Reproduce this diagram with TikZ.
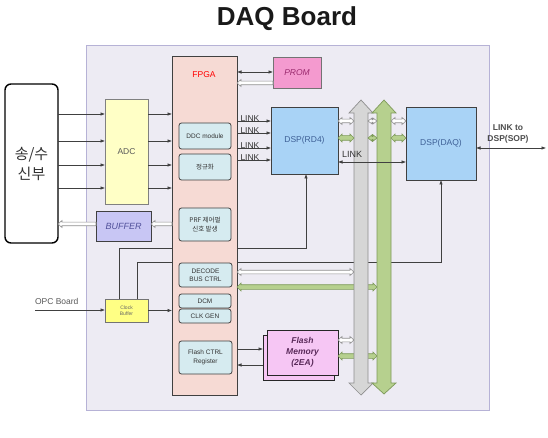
\documentclass[tikz,border=0pt]{standalone}
\usepackage{fontspec}
\setmainfont{Liberation Sans}
\newfontfamily\kr{Noto Sans CJK KR}
\usetikzlibrary{arrows.meta}
\pgfdeclarelayer{bg}\pgfdeclarelayer{back}
\pgfsetlayers{bg,back,main}
\definecolor{panelfill}{HTML}{EDEBF3}
\definecolor{paneldraw}{HTML}{B6B2D6}
\definecolor{fpgafill}{HTML}{F6DAD4}
\definecolor{subfill}{HTML}{D6EBF0}
\definecolor{adcfill}{HTML}{FFFFC6}
\definecolor{promfill}{HTML}{F49ACF}
\definecolor{promtext}{HTML}{9A2A6E}
\definecolor{dspfill}{HTML}{A9D3F6}
\definecolor{dsptext}{HTML}{3E6096}
\definecolor{buffill}{HTML}{C8C6F4}
\definecolor{buftext}{HTML}{50509A}
\definecolor{cbfill}{HTML}{FFFF84}
\definecolor{flfill}{HTML}{F6C6F4}
\definecolor{fltext}{HTML}{5A2A5A}
\definecolor{busgray}{HTML}{D6D6D6}
\definecolor{busgraydraw}{HTML}{8E8E8E}
\definecolor{busgreen}{HTML}{B6D08E}
\definecolor{busgreendraw}{HTML}{7E9A5A}
\definecolor{linec}{HTML}{404040}
\definecolor{txtc}{HTML}{333333}
\newcommand\fs[2]{\fontsize{#1}{#2}\selectfont}
\newcommand\mkbox[7]{\node[#6, minimum width={(#4-#2)*1pt}, minimum height={(#5-#3)*1pt}] (#1) at ({(#2+#4)/2},{(#3+#5)/2}) {#7};}
% horizontal double-headed block arrow: x1 x2 y halfshaft style
\newcommand\hdbl[5]{\filldraw[#5] (#1,#3) -- ({#1+4},{#3-#4-1.7}) -- ({#1+4},{#3-#4}) -- ({#2-4},{#3-#4}) -- ({#2-4},{#3-#4-1.7}) -- (#2,#3) -- ({#2-4},{#3+#4+1.7}) -- ({#2-4},{#3+#4}) -- ({#1+4},{#3+#4}) -- ({#1+4},{#3+#4+1.7}) -- cycle;}
% horizontal left-pointing block arrow (head at x1)
\newcommand\hleft[5]{\filldraw[#5] (#1,#3) -- ({#1+4},{#3-#4-1.7}) -- ({#1+4},{#3-#4}) -- (#2,{#3-#4}) -- (#2,{#3+#4}) -- ({#1+4},{#3+#4}) -- ({#1+4},{#3+#4+1.7}) -- cycle;}
\begin{document}
\begin{tikzpicture}[x=1pt,y=-1pt,
  every node/.style={inner sep=0pt, outer sep=0pt, align=center},
  box/.style={draw=linec, line width=.8pt},
  sub/.style={box, fill=subfill, rounded corners=2.5pt, text=txtc, font=\fs{6.5}{8}},
  conn/.style={draw=linec, line width=.6pt},
  arr/.style={conn, -{Latex[length=4.5pt,width=3.5pt]}},
  darr/.style={conn, {Latex[length=4.5pt,width=3.5pt]}-{Latex[length=4.5pt,width=3.5pt]}},
  hol/.style={fill=white, draw=busgraydraw, line width=.6pt},
  grn/.style={fill=busgreen, draw=busgreendraw, line width=.6pt},
  linklbl/.style={anchor=south west, text=txtc, font=\fs{8.5}{9}}]
\useasboundingbox (0,0) rectangle (548,438);
\begin{pgfonlayer}{bg}
\filldraw[fill=panelfill, draw=paneldraw, line width=1pt] (86,46) rectangle (489,410);
\end{pgfonlayer}
\node[font=\bfseries\fs{26}{30}, text=black!90, anchor=base] (title) at (287,26) {DAQ Board};
% boxes
\mkbox{tx}{5}{84}{58}{243}{draw=black, line width=1.4pt, fill=white, rounded corners=6pt, text=txtc, font=\kr\fs{15}{20}}{송/수\\신부}
\mkbox{adc}{105}{99}{148}{204}{draw=black!50, line width=.8pt, fill=adcfill, text=black!65, font=\fs{8.5}{10}}{ADC}
\mkbox{fpga}{172}{56}{237}{395}{box, fill=fpgafill}{}
\node[text=red, font=\fs{8.5}{10}] (fpgalbl) at (204,75) {FPGA};
\mkbox{ddc}{179}{123}{231}{149}{sub}{DDC module}
\mkbox{nrm}{179}{154}{231}{180}{sub, font=\kr\fs{6.5}{8}}{정규화}
\mkbox{prf}{179}{208}{231}{241}{sub, font=\kr\fs{6.5}{9}}{PRF 제어펄\\신호 발생}
\mkbox{dec}{179}{263}{232}{287}{sub}{DECODE\\BUS CTRL}
\mkbox{dcm}{179}{294}{231}{308}{sub}{DCM}
\mkbox{clk}{179}{309}{231}{323}{sub}{CLK GEN}
\mkbox{fcr}{179}{341}{232}{374}{sub, font=\fs{6.5}{9}}{Flash CTRL\\Register}
\mkbox{prom}{273}{57}{321}{88}{draw=black!55, line width=.8pt, fill=promfill, text=promtext, font=\itshape\fs{8.5}{10}}{PROM}
\mkbox{rd}{271}{107}{338}{174}{box, fill=dspfill, text=dsptext, font=\fs{8.5}{10}}{DSP(RD4)}
\mkbox{dq}{406}{107}{476}{180}{box, fill=dspfill, text=dsptext, font=\fs{8.5}{10}}{DSP(DAQ)}
\mkbox{buf}{96}{211}{151}{241}{box, fill=buffill, text=buftext, font=\itshape\fs{9}{10}}{BUFFER}
\mkbox{cb}{105}{299}{148}{322}{draw=black!55, line width=.8pt, fill=cbfill, text=black!60, font=\fs{5}{6}}{Clock\\Buffer}
\mkbox{fl2}{263}{335}{334}{380}{draw=black!85, line width=.8pt, fill=flfill}{}
\mkbox{fl}{267}{330}{338}{375}{draw=black!85, line width=.8pt, fill=flfill, text=fltext, font=\bfseries\itshape\fs{8.5}{11}}{Flash\\Memory\\(2EA)}
% clock lines (behind)
\begin{pgfonlayer}{back}
\draw[arr] ([xshift=-7.5pt]cb.north) -- ++(0,-51) -| ([xshift=1.5pt]rd.south);
\draw[arr] ([xshift=10.5pt]cb.north) -- ++(0,-37) -| (dq.south);
\end{pgfonlayer}
% green / hollow connectors crossing behind gray bus
\hdbl{237}{354}{272}{1.8}{hol}
\hdbl{237}{377}{287}{2.3}{grn}
\hdbl{338}{354}{340}{1.8}{hol}
\hdbl{338}{377}{356}{2.3}{grn}
% buses
\filldraw[fill=busgray, draw=busgraydraw, line width=.7pt] (361,100) -- (373,113) -- (368,113) -- (368,383) -- (373,383) -- (361,395) -- (349,383) -- (354,383) -- (354,113) -- (349,113) -- cycle;
\filldraw[fill=busgreen, draw=busgreendraw, line width=.7pt] (384,100) -- (396,113) -- (391,113) -- (391,383) -- (396,383) -- (384,394) -- (372,383) -- (377,383) -- (377,113) -- (372,113) -- cycle;
% DSP to bus connectors
\hdbl{338}{354}{121}{1.8}{hol}
\hdbl{368}{377}{121}{1.2}{hol}
\hdbl{391}{406}{121}{1.8}{hol}
\hdbl{338}{354}{138}{2.3}{grn}
\hdbl{368}{377}{138}{1.5}{grn}
\hdbl{391}{406}{138}{2.3}{grn}
% row coordinates
\coordinate (r1) at (0,114);
\coordinate (r2) at (0,141);
\coordinate (r3) at (0,165);
\coordinate (r4) at (0,188);
\foreach \r in {r1,r2,r3,r4}{
  \draw[arr] (tx.east |- \r) -- (adc.west |- \r);
  \draw[arr] (adc.east |- \r) -- (fpga.west |- \r);
}
% PROM
\coordinate (p1) at (0,72);
\draw[darr] (fpga.east |- p1) -- (prom.west |- p1);
\hleft{237}{273}{83}{1.8}{hol}
% LINK arrows
\coordinate (l1) at (0,121);
\coordinate (l2) at (0,133);
\coordinate (l3) at (0,148);
\coordinate (l4) at (0,160);
\foreach \l in {l1,l2,l3,l4}{
  \draw[arr] (fpga.east |- \l) -- (rd.west |- \l);
  \node[linklbl] at ([xshift=3.5pt,yshift=-0.5pt]fpga.east |- \l) {LINK};
}
% middle LINK
\coordinate (m1) at (0,162);
\draw[darr] (rd.east |- m1) -- (dq.west |- m1);
\node[text=txtc, font=\fs{9}{10}] (midlink) at (352,154) {LINK};
% external link
\coordinate (ext) at (546,148);
\draw[darr] (dq.east |- ext) -- (ext);
\node[text=black!70, font=\bfseries\fs{8.5}{11.5}] (extlbl) at (508,134) {LINK to\\DSP(SOP)};
% BUFFER hollow arrows
\hleft{151}{172}{224}{1.8}{hol}
\hleft{58}{96}{224}{1.8}{hol}
% OPC board
\coordinate (opc) at (35,310);
\node[anchor=west, text=black!65, font=\fs{8.5}{10}] (opclbl) at (35,301) {OPC Board};
\draw[arr] (opc) -- (cb.west |- opc);
\draw[arr] (cb.east) -- (fpga.west |- cb.east);
% Flash arrows
\coordinate (f1) at (0,349);
\coordinate (f2) at (0,365);
\draw[arr] (fpga.east |- f1) -- (fl2.west |- f1);
\draw[arr] (fl2.west |- f2) -- (fpga.east |- f2);
\end{tikzpicture}
\end{document}
